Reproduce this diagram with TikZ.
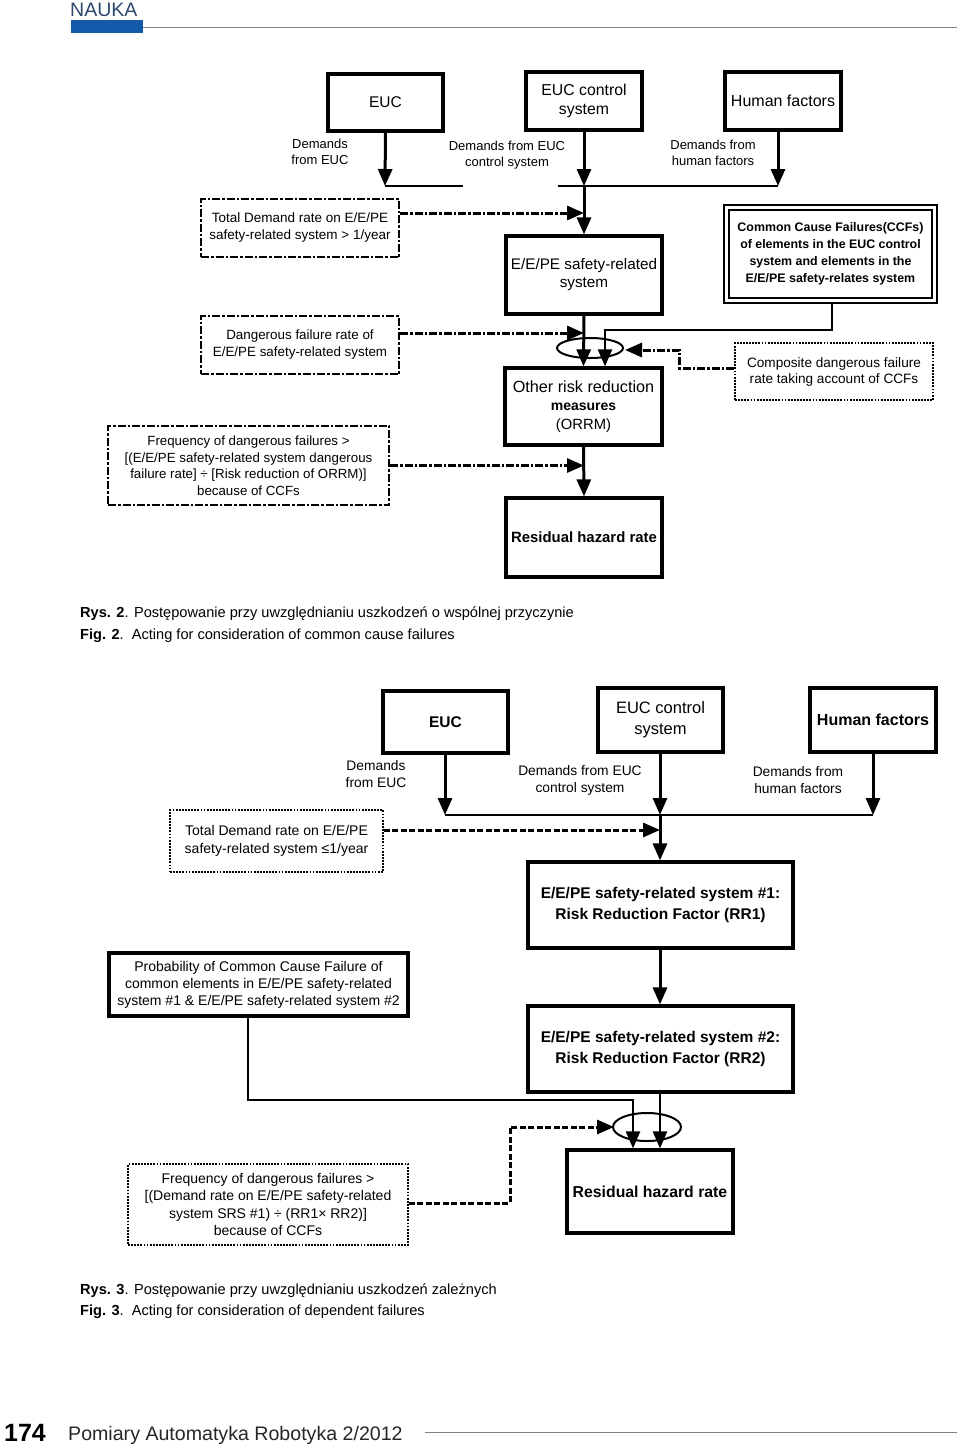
\documentclass[tikz,border=0pt]{standalone}
\usepackage{fontspec}
\setmainfont{Liberation Sans}
\usetikzlibrary{arrows.meta}
\newcommand{\fsz}[2]{\fontsize{#1pt}{#2pt}\selectfont}
\definecolor{naukablue}{RGB}{20,90,170}
\definecolor{headtext}{RGB}{45,70,110}
\tikzset{
  solidbox/.style={draw, line width=3.2pt, align=center, inner sep=1pt},
  dashdotbox/.style={draw, line width=2.8pt, dash pattern=on 8pt off 2pt on 2.5pt off 2pt, align=center, inner sep=1pt},
  dotbox/.style={draw, line width=1.8pt, dash pattern=on 1.8pt off 1.3pt, align=center, inner sep=1pt},
  arr/.style={line width=3pt, -{Triangle[width=14pt,length=17pt]}},
  thinarr/.style={line width=2.2pt, -{Triangle[width=14pt,length=17pt]}},
  dasharr/.style={line width=3pt, dash pattern=on 8pt off 2pt on 2.5pt off 2pt, -{Triangle[width=14pt,length=17pt]}},
  dasharrb/.style={line width=3pt, dash pattern=on 6pt off 2.5pt, -{Triangle[width=14pt,length=17pt]}},
  plainline/.style={line width=2.4pt},
  lbl/.style={align=center, inner sep=0pt, font=\fsz{13}{16}},
  capt/.style={anchor=base west, inner sep=0pt, font=\fsz{14.6}{16}},
}
\begin{document}
\begin{tikzpicture}[x=1pt, y=-1pt]
\useasboundingbox (0,0) rectangle (960,1444);
% header
\node[anchor=base west, inner sep=0pt, text=headtext, font=\fsz{19.5}{22}] (nauka) at (70,16) {NAUKA};
\fill[naukablue] (71,20) rectangle (143,33);
\draw[line width=0.9pt, gray] (143,27) -- (957,27);

% ===== Figure 2 =====
\node[solidbox, minimum width=115pt, minimum height=57pt, font=\fsz{15.5}{18}] (euc1) at (385.5,102.5) {EUC};
\node[solidbox, minimum width=116pt, minimum height=58pt, font=\fsz{15.8}{19}] (ctl1) at (584,101) {EUC control\\system};
\node[solidbox, minimum width=116pt, minimum height=58pt, font=\fsz{16}{18}] (hum1) at (783,101) {Human factors};

\node[lbl] (l1a) at (320,152) {Demands\\from EUC};
\node[lbl] (l1b) at (507,155) {Demands from EUC\\control system};
\node[lbl] (l1c) at (713,153) {Demands from\\human factors};

\node[dashdotbox, minimum width=198pt, minimum height=58pt, font=\fsz{13.5}{17}] (tot1) at (300,228) {Total Demand rate on E/E/PE\\safety-related system > 1/year};
\node[solidbox, minimum width=156pt, minimum height=78pt, font=\fsz{15.3}{18}] (saf1) at (584,275) {E/E/PE safety-related\\system};
\node[draw, double, double distance=2.5pt, line width=2.4pt, minimum width=208pt, minimum height=93pt, align=center, inner sep=1pt, font=\bfseries\fsz{12.4}{17}] (ccf1) at (830.5,254) {Common Cause Failures(CCFs)\\of elements in the EUC control\\system and elements in the\\E/E/PE safety-relates system};
\node[dashdotbox, minimum width=198pt, minimum height=58pt, font=\fsz{13.4}{17}] (dng1) at (300,345) {Dangerous failure rate of\\E/E/PE safety-related system};
\node[dotbox, minimum width=198pt, minimum height=57pt, font=\fsz{13.6}{16}] (cmp1) at (834,371.5) {Composite dangerous failure\\rate taking account of CCFs};
\node[solidbox, minimum width=157pt, minimum height=77pt, font=\fsz{14.5}{18.5}] (orr1) at (583.5,406.5) {{\fsz{16.2}{19}Other risk reduction}\\{\bfseries\fsz{14}{18}measures}\\{\fsz{14.8}{18}(ORRM)}};
\node[dashdotbox, minimum width=281pt, minimum height=79pt, font=\fsz{13.3}{16.5}] (frq1) at (248.5,465.5) {Frequency of dangerous failures >\\{[}(E/E/PE safety-related system dangerous\\failure rate{]} ÷ {[}Risk reduction of ORRM){]}\\because of CCFs};
\node[solidbox, minimum width=156pt, minimum height=79pt, font=\bfseries\fsz{14.9}{18}] (res1) at (584,537.5) {Residual hazard rate};

\coordinate (j1a) at (385,186);
\coordinate (j1b) at (584,186);
\coordinate (j1c) at (778,186);
\draw[arr] (euc1.south) -- (j1a);
\draw[arr] (ctl1.south) -- (j1b);
\draw[arr] (hum1.south -| j1c) -- (j1c);
\draw[plainline] (j1a) -- (463,186);
\draw[plainline] (558,186) -- (j1c);
\draw[arr] (j1b) -- (saf1.north);
\draw[dasharr] (tot1.east |- 0,213) -- (584,213);

\coordinate (c1a) at (832,330);
\coordinate (c1b) at (605,330);
\draw[arr] (saf1.south) -- (orr1.north);
\draw[thinarr] (ccf1.south -| c1a) -- (c1a) -- (c1b) -- (c1b |- orr1.north);
\draw[line width=2pt] (590,348) ellipse [x radius=33pt, y radius=10pt];
\draw[dasharr] (dng1.east |- 0,333) -- (584,333);
\draw[dasharr] (cmp1.west |- 0,368) -- (679,368) -- (679,350) -- (625,350);

\draw[arr] (orr1.south) -- (res1.north);
\draw[dasharr] (frq1.east) -- (584,465.5);

\node[capt] (cap2a) at (80,617) {\textbf{Rys. 2}. Postępowanie przy uwzględnianiu uszkodzeń o wspólnej przyczynie};
\node[capt] (cap2b) at (80,639) {\textbf{Fig. 2}.\ \ Acting for consideration of common cause failures};

% ===== Figure 3 =====
\node[solidbox, minimum width=125pt, minimum height=62pt, font=\bfseries\fsz{15.5}{18}] (euc2) at (445.5,722) {EUC};
\node[solidbox, minimum width=125pt, minimum height=64pt, font=\fsz{16.5}{21}] (ctl2) at (660.5,720) {EUC control\\system};
\node[solidbox, minimum width=126pt, minimum height=64pt, font=\bfseries\fsz{16}{18}] (hum2) at (873,720) {Human factors};

\node[lbl, font=\fsz{13.8}{17}] (l2a) at (376,774) {Demands\\from EUC};
\node[lbl, font=\fsz{13.8}{17}] (l2b) at (580,780) {Demands from EUC\\control system};
\node[lbl, font=\fsz{13.8}{17}] (l2c) at (798,780) {Demands from\\human factors};

\node[dotbox, minimum width=213pt, minimum height=62pt, font=\fsz{14}{18}] (tot2) at (276.5,841) {Total Demand rate on E/E/PE\\safety-related system ≤1/year};
\node[solidbox, minimum width=265pt, minimum height=86pt, font=\bfseries\fsz{15.5}{21}] (rr1) at (660.5,905) {E/E/PE safety-related system \#1:\\Risk Reduction Factor (RR1)};
\node[solidbox, minimum width=299pt, minimum height=63pt, font=\fsz{14}{17}] (prb) at (258.5,984.5) {Probability of Common Cause Failure of\\common elements in E/E/PE safety-related\\system \#1 \& E/E/PE safety-related system \#2};
\node[solidbox, minimum width=265pt, minimum height=86pt, font=\bfseries\fsz{15.5}{21}] (rr2) at (660.5,1049) {E/E/PE safety-related system \#2:\\Risk Reduction Factor (RR2)};
\node[solidbox, minimum width=166pt, minimum height=83pt, font=\bfseries\fsz{15.8}{18}] (res2) at (650,1191.5) {Residual hazard rate};
\node[dotbox, minimum width=280pt, minimum height=81pt, font=\fsz{14}{17.5}] (frq2) at (268,1204.5) {Frequency of dangerous failures >\\{[}(Demand rate on E/E/PE safety-related\\system SRS \#1) ÷ (RR1× RR2){]}\\because of CCFs};

\coordinate (j2a) at (445,815);
\coordinate (j2b) at (660,815);
\coordinate (j2c) at (873,815);
\draw[arr] (euc2.south -| j2a) -- (j2a);
\draw[arr] (ctl2.south -| j2b) -- (j2b);
\draw[arr] (hum2.south) -- (j2c);
\draw[plainline] (j2a) -- (j2c);
\draw[arr] (j2b) -- (j2b |- rr1.north);
\draw[dasharrb] (tot2.east |- 0,830) -- (660,830);
\draw[arr] (rr1.south -| j2b) -- (j2b |- rr2.north);

\coordinate (p2a) at (248,1100);
\coordinate (p2b) at (633,1100);
\draw[thinarr] (prb.south -| p2a) -- (p2a) -- (p2b) -- (p2b |- res2.north);
\draw[thinarr] (rr2.south -| j2b) -- (j2b |- res2.north);
\draw[line width=2pt] (647,1127) ellipse [x radius=34pt, y radius=14pt];
\draw[dasharrb] (frq2.east |- 0,1203) -- (510,1203) -- (510,1127) -- (614,1127);

\node[capt] (cap3a) at (80,1294) {\textbf{Rys. 3}. Postępowanie przy uwzględnianiu uszkodzeń zależnych};
\node[capt] (cap3b) at (80,1315) {\textbf{Fig. 3}.\ \ Acting for consideration of dependent failures};

% footer
\node[anchor=base west, inner sep=0pt, font=\bfseries\fsz{25}{28}] (pg) at (4,1441) {174};
\node[anchor=base west, inner sep=0pt, text=black!85, font=\fsz{19.6}{24}] (journal) at (68,1440) {Pomiary Automatyka Robotyka 2/2012};
\draw[line width=0.9pt, gray] (425,1432) -- (957,1432);
\end{tikzpicture}
\end{document}
